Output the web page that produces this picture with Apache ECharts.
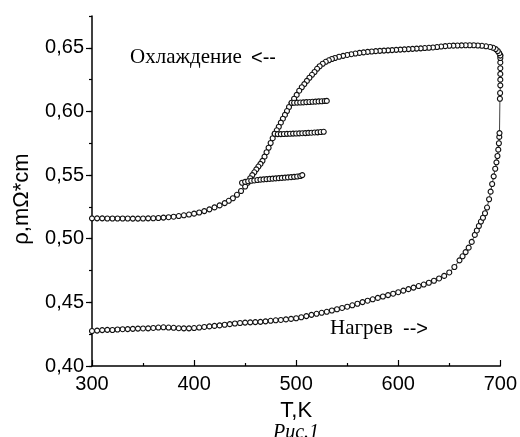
<!DOCTYPE html>
<html><head><meta charset="utf-8">
<script src="https://cdn.jsdelivr.net/npm/echarts@6/dist/echarts.min.js"></script>
<style>html,body{margin:0;padding:0;background:#fff}#c{width:520px;height:437px}</style>
</head><body><div id="c"></div>
<script>
// Heating branch (T, K) and resistivity (mΩ*cm)
var heatT = [300,305,310,315,320,325,330,335,340,345,350,355,360,365,370,375,380,385,390,395,
  400,405,410,415,420,425,430,435,440,445,450,455,460,465,470,475,480,485,490,495,
  500,505,510,515,520,525,530,535,540,545,550,555,560,565,570,575,580,585,590,595,
  600,605,610,615,620,625,630,635,640,645,650,655,660,663,666,669,672,675,677,679,
  681,683,685,687,689,690.5,692,693.5,695,696.2,697.2,698,698.6,699,699.2,
  699.6,699.8,700,700,700,700,700,700,700];
var heatRho = [.4275,.4278,.4282,.4284,.4283,.4287,.4289,.4290,.4292,.4294,.4295,.4296,.4299,.4302,.4304,.4302,.4300,.4297,.4296,.4296,
  .4298,.4302,.4307,.4311,.4315,.4319,.4324,.4329,.4334,.4338,.4341,.4343,.4345,.4347,.4351,.4355,.4359,.4362,.4366,.4370,
  .4375,.4383,.4392,.4402,.4410,.4418,.4426,.4436,.4446,.4456,.4466,.4477,.4489,.4502,.4513,.4524,.4535,.4546,.4557,.4568,
  .4580,.4592,.4604,.4616,.4628,.4640,.4654,.4670,.4688,.4708,.4735,.4778,.4830,.4862,.4895,.4930,.4975,.5030,.5065,.5100,
  .5135,.5165,.5200,.5245,.5310,.5370,.5430,.5490,.5550,.5600,.5650,.5700,.5750,.5800,.5830,
  .6100,.6145,.6205,.6250,.6295,.6340,.6385,.6420,.6440];

// Cooling branch
var coolT = [700,699,697.5,695.5,693,690,686,682,678,674,670,666,662,658,654,650,646,642,638,634,
  630,626,622,618,614,610,606,602,598,594,590,586,582,578,574,570,566,562,558,554,
  550,546,542,538,535,532,529,526,523,520.5,518,515.5,513,510.5,508,505.5,503,500.5,498,495.5,
  493,491,489,487,485,483,481,479,477,475,473,471,469,467,465,463,461,459,457,455,
  452.5,450,446,442,438,434,430,425,420,415,410,405,400,395,390,385,380,375,370,365,
  360,355,350,345,340,335,330,325,320,315,310,305,300];
var coolRho = [.6440,.6458,.6475,.6490,.6500,.6507,.6512,.6516,.6518,.6520,.6520,.6520,.6519,.6518,.6517,.6516,.6513,.6510,.6506,.6503,
  .6500,.6498,.6496,.6494,.6492,.6490,.6488,.6486,.6484,.6482,.6480,.6478,.6476,.6474,.6471,.6468,.6464,.6460,.6455,.6450,
  .6444,.6437,.6430,.6420,.6412,.6402,.6390,.6375,.6355,.6335,.6310,.6288,.6265,.6240,.6215,.6190,.6163,.6130,.6100,.6068,
  .6035,.6003,.5973,.5943,.5912,.5880,.5852,.5825,.5790,.5752,.5715,.5680,.5645,.5612,.5588,.5567,.5545,.5522,.5500,.5475,
  .5440,.5410,.5375,.5345,.5318,.5298,.5280,.5262,.5246,.5231,.5217,.5206,.5197,.5190,.5184,.5178,.5173,.5169,.5166,.5163,
  .5161,.5160,.5159,.5158,.5158,.5159,.5159,.5159,.5159,.5159,.5160,.5160,.5160];

// Partial cooling / reheating branches
var b1T = [447,450,453,456,459,462,465,468,471,474,477,480,483,486,489,492,495,498,501,504,506];
var b1Rho = [.5440,.5447,.5452,.5455,.5458,.5461,.5464,.5466,.5468,.5470,.5472,.5474,.5476,.5478,.5480,.5482,.5484,.5486,.5489,.5493,.5500];
var b2T = [479,482,485,488,491,494,497,500,503,506,509,512,515,518,521,524,527];
var b2Rho = [.5825,.5822,.5822,.5823,.5824,.5825,.5826,.5827,.5828,.5829,.5830,.5832,.5833,.5835,.5836,.5838,.5840];
var b3T = [495.5,498,501,504,507,510,513,516,519,522,525,528,530];
var b3Rho = [.6068,.6068,.6069,.6070,.6071,.6073,.6074,.6076,.6077,.6079,.6080,.6082,.6083];

var yTicks = [0.40,0.45,0.50,0.55,0.60,0.65];
var xTicks = [300,400,500,600,700];

function pairs(t, r){ return t.map(function(v,i){ return [v, r[i]]; }); }
function ser(t, r){
  return {type:'line', xAxisIndex:0, yAxisIndex:0, data:pairs(t,r), symbol:'circle', symbolSize:5,
    showSymbol:true, animation:false,
    itemStyle:{color:'#fff', borderColor:'#111', borderWidth:1.1},
    lineStyle:{color:'#111', width:0.8}};
}

var chart = echarts.init(document.getElementById('c'), null, {renderer:'canvas'});
var axisCol = '#000';
chart.setOption({
  backgroundColor:'#fff',
  animation:false,
  grid:{left:92, right:19, top:16, bottom:71},
  xAxis:[{type:'value', min:300, max:700, interval:100,
    axisLine:{lineStyle:{color:axisCol, width:1.5}},
    axisTick:{inside:true, length:6, lineStyle:{color:axisCol, width:1.2}},
    minorTick:{show:true, splitNumber:2, length:3, lineStyle:{color:axisCol, width:1.2}},
    splitLine:{show:false},
    axisLabel:{color:'#000', fontFamily:'Liberation Sans', fontSize:20, margin:8},
    name:'T,K', nameLocation:'middle', nameGap:34,
    nameTextStyle:{color:'#000', fontFamily:'Liberation Sans', fontSize:22}
  }],
  yAxis:[{type:'value', min:0.40, max:0.675, interval:0.025,
    axisLine:{show:true, lineStyle:{color:axisCol, width:1.5}},
    axisTick:{show:true, inside:false, length:3, lineStyle:{color:axisCol, width:1.2}},
    splitLine:{show:false},
    axisLabel:{show:false}
  },{type:'value', min:0.40, max:0.675, position:'left',
    axisLine:{show:false},
    axisTick:{show:true, inside:false, length:6, customValues:yTicks, lineStyle:{color:axisCol, width:1.2}},
    splitLine:{show:false},
    axisLabel:{show:true, customValues:yTicks, color:'#000', fontFamily:'Liberation Sans', fontSize:20, margin:8,
      formatter:function(v){ return v.toFixed(2).replace('.', ','); }}
  }],
  series:[ser(heatT,heatRho), ser(coolT,coolRho), ser(b1T,b1Rho), ser(b2T,b2Rho), ser(b3T,b3Rho)],
  graphic:[
    {type:'text', left:130, top:47, style:{text:'Охлаждение', font:'21px "Liberation Serif"', fill:'#000'}},
    {type:'text', left:251, top:48, style:{text:'<--', font:'20px "Liberation Sans"', fill:'#000'}},
    {type:'text', left:330, top:318, style:{text:'Нагрев', font:'21px "Liberation Serif"', fill:'#000'}},
    {type:'text', left:403, top:319, style:{text:'-->', font:'20px "Liberation Sans"', fill:'#000'}},
    {type:'text', x:22, y:199, rotation:Math.PI/2,
      style:{text:'ρ,mΩ*cm', font:'22px "Liberation Sans"', fill:'#000', align:'center', verticalAlign:'middle'}},
    {type:'text', x:296, y:433, style:{text:'Рис.1', font:'italic 20px "Liberation Serif"', fill:'#000', align:'center', verticalAlign:'middle'}}
  ]
});
</script></body></html>
